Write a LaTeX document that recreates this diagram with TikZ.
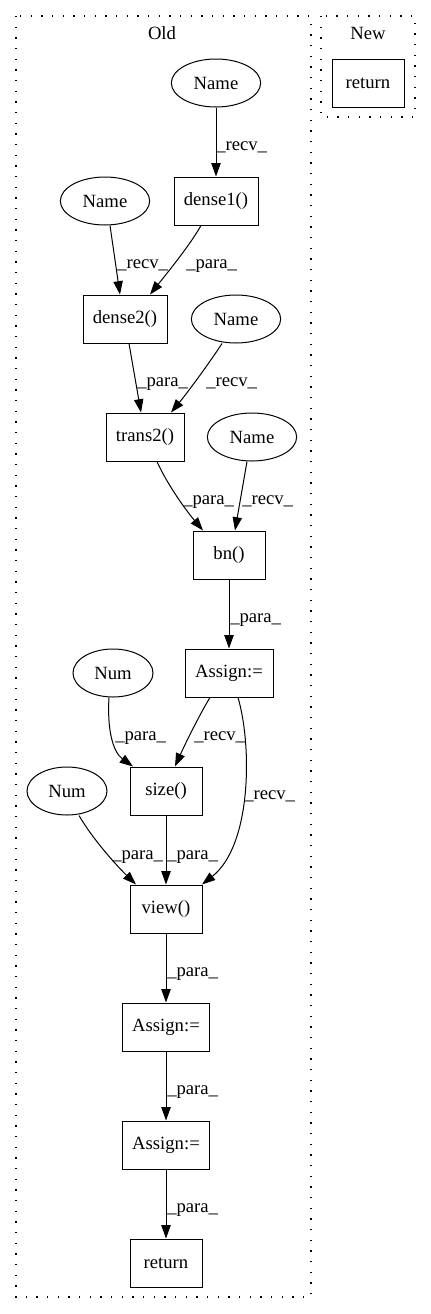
\documentclass[tikz,border=0pt]{standalone}
\usepackage{fontspec}
\setmainfont{Liberation Serif}
\usetikzlibrary{shapes.geometric,arrows.meta}
\begin{document}
\begin{tikzpicture}[x=0.75pt,y=-0.75pt,
  every node/.style={font=\fontsize{14}{16}\selectfont},
  opbox/.style={draw,line width=0.75pt,rectangle,inner sep=0pt,minimum height=36pt,minimum width=54pt},
  oval/.style={draw,line width=0.75pt,ellipse,inner sep=0pt,minimum height=36pt,minimum width=67pt},
  numoval/.style={oval,minimum width=60pt},
  edge/.style={draw,line width=0.75pt,-{Triangle[length=10pt,width=7pt]}},
  elabel/.style={anchor=base west,inner sep=0pt},
  cluster/.style={draw,line width=0.9pt,dash pattern=on 1pt off 7pt}]
\useasboundingbox (0,0) rectangle (431,1314);
% clusters
\draw[cluster] (16,16) rectangle (311,1297);
\draw[cluster] (321,16) rectangle (415,117);
\node (oldlbl) at (162,33) {Old};
\node (newlbl) at (368,33) {New};
% nodes
\node[opbox] (newret) at (368,83) {return};
\node[oval] (name1) at (216,83) {Name};
\node[opbox,minimum width=63pt] (dense1) at (216,201) {dense1()};
\node[oval] (name2) at (105,201) {Name};
\node[opbox,minimum width=63pt] (dense2) at (125,319) {dense2()};
\node[oval] (name3) at (236,319) {Name};
\node[opbox,minimum width=58.5pt] (trans2) at (145,437) {trans2()};
\node[oval] (name4) at (252,437) {Name};
\node[opbox] (bn) at (229,555) {bn()};
\node[opbox,minimum width=66pt] (assign1) at (229,673) {Assign:=};
\node[numoval] (num1) at (113,673) {Num};
\node[opbox] (size) at (166,791) {size()};
\node[numoval] (num2) at (67,791) {Num};
\node[opbox] (view) at (166,909) {view()};
\node[opbox,minimum width=65pt] (assign2) at (166,1027) {Assign:=};
\node[opbox,minimum width=65pt] (assign3) at (166,1145) {Assign:=};
\node[opbox] (ret) at (166,1263) {return};
% edges
\draw[edge] (name1) -- (dense1);
\draw[edge] ([xshift=3.75pt]name2.south) -- ([xshift=-3.75pt]dense2.north);
\draw[edge] ([xshift=-11.25pt]dense1.south) .. controls (190,245) and (168,272) .. ([xshift=18.75pt]dense2.north);
\draw[edge] ([xshift=3pt]dense2.south) -- ([xshift=-3pt]trans2.north);
\draw[edge] ([xshift=-10.5pt]name3.south) .. controls (210,362) and (188,392) .. ([xshift=19.5pt]trans2.north);
\draw[edge] ([xshift=9pt]trans2.south) .. controls (166,482) and (184,508) .. ([xshift=-19.5pt]bn.north);
\draw[edge] ([xshift=-3.75pt]name4.south) -- ([xshift=4.5pt]bn.north);
\draw[edge] (bn) -- (assign1);
\draw[edge] ([xshift=-3pt]num1.south) .. controls (107,730) and (113,752) .. ([xshift=-24.75pt]size.north);
\draw[edge] ([xshift=-14.25pt]assign1.south) .. controls (201,712) and (186,742) .. ([xshift=6.75pt]size.north);
\draw[edge] ([xshift=6.75pt]assign1.south) .. controls (252,745) and (252,845) .. ([xshift=27pt]view.north);
\draw[edge] ([xshift=9pt]num2.south) .. controls (92,838) and (115,864) .. ([xshift=-22.5pt]view.north);
\draw[edge] (size) -- (view);
\draw[edge] (view) -- (assign2);
\draw[edge] (assign2) -- (assign3);
\draw[edge] (assign3) -- (ret);
% edge labels
\node[elabel] (l1) at (216,150) {\_recv\_};
\node[elabel] (l2) at (117,268) {\_recv\_};
\node[elabel] (l3) at (186,268) {\_para\_};
\node[elabel] (l4) at (137,386) {\_para\_};
\node[elabel] (l5) at (206,386) {\_recv\_};
\node[elabel] (l6) at (183,504) {\_para\_};
\node[elabel] (l7) at (242,504) {\_recv\_};
\node[elabel] (l8) at (230,622) {\_para\_};
\node[elabel] (l9) at (115,740) {\_para\_};
\node[elabel] (l10) at (194,740) {\_recv\_};
\node[elabel] (l11) at (244,799) {\_recv\_};
\node[elabel] (l12) at (112,859) {\_para\_};
\node[elabel] (l13) at (167,859) {\_para\_};
\node[elabel] (l14) at (167,976) {\_para\_};
\node[elabel] (l15) at (167,1094) {\_para\_};
\node[elabel] (l16) at (167,1212) {\_para\_};
\end{tikzpicture}
\end{document}
